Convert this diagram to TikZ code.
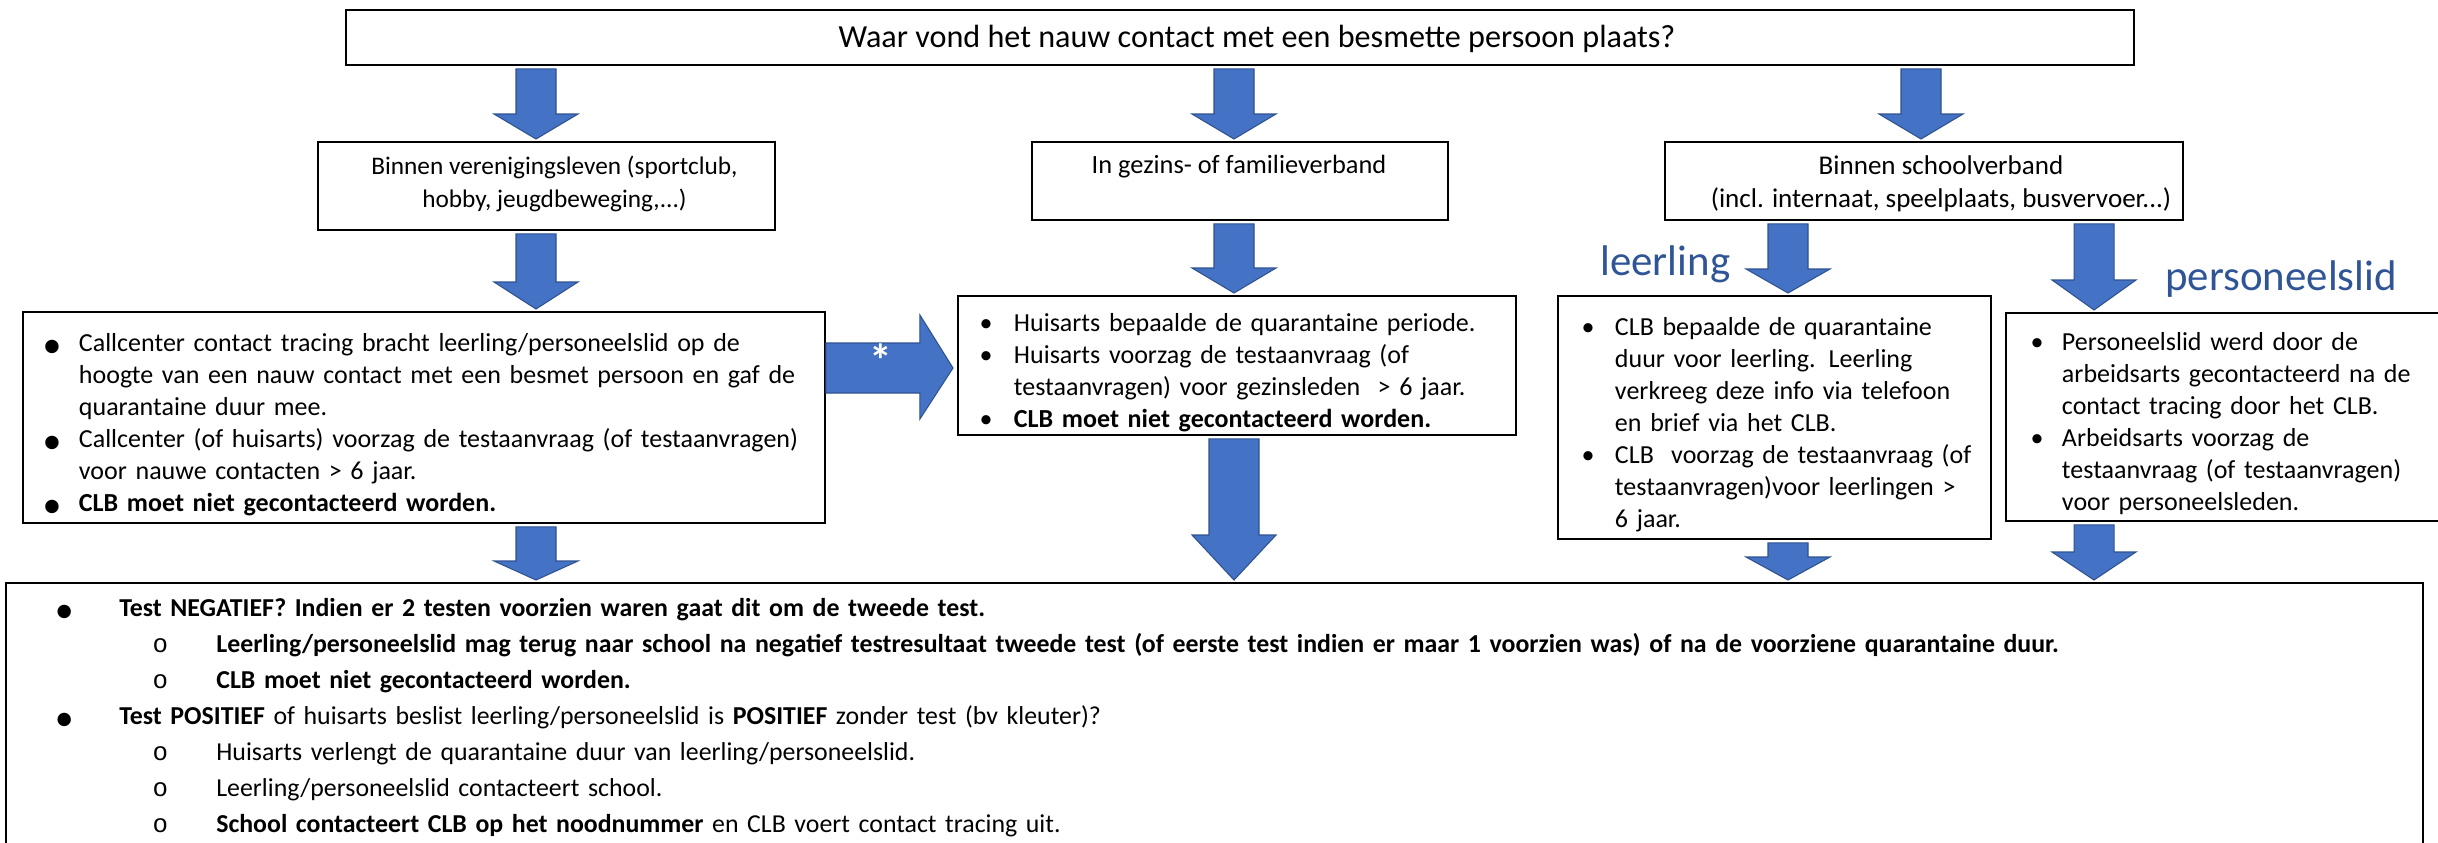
\documentclass[tikz,border=0pt]{standalone}
\usepackage{fontspec}
\setmainfont{Carlito}
\newfontfamily\symfont{DejaVu Sans}
\newfontfamily\monofont{Liberation Mono}
\usetikzlibrary{calc,positioning}

\definecolor{pijlblauw}{HTML}{4472C4}
\definecolor{pijlrand}{HTML}{2F528F}
\definecolor{labelblauw}{HTML}{2F5597}

\newlength\pxl
\setlength\pxl{0.2mm}

\newcommand{\vraagfont}{\fontsize{18.3}{21}\selectfont}
\newcommand{\kopfont}[1]{\fontsize{#1}{18.8}\selectfont}
\newcommand{\puntfont}{\fontsize{14.8}{18.2}\selectfont}
\newcommand{\testfont}{\fontsize{14.7}{20.5}\selectfont}
\newcommand{\labelfont}{\fontsize{24.4}{28}\selectfont}

\newcommand{\grootbol}{{\symfont\fontsize{10}{10}\selectfont ●}}
\newcommand{\rondje}{{\monofont o}}

% #1 = midden opsommingsteken, #2 = inspringing tekst (px), #3 = teken, #4 = tekst
\newcommand{\punt}[4]{\par\noindent\hangindent=#2\pxl\hangafter=1%
  \makebox[#2\pxl][l]{\hspace*{#1\pxl}\makebox[0pt]{#3}}{\def\\{\hfil\break}#4\par}}

% blokpijl omlaag: [halve schacht] kolom, van, naar, lengte kop
\newcommand{\blokpijl}[5][20]{%
  \path (#3 -| #2) coordinate (pijlbegin) (#4 -| #2) coordinate (pijleind);
  \draw[pijl] ($(pijlbegin)+(-#1,3)$) -- ($(pijlbegin)+(#1,3)$)
    -- ($(pijleind)+(#1,-#5-2)$) -- ($(pijleind)+(42,-#5-2)$)
    -- ($(pijleind)+(0,-2)$)
    -- ($(pijleind)+(-42,-#5-2)$) -- ($(pijleind)+(-#1,-#5-2)$) -- cycle;
}

\begin{document}
\begin{tikzpicture}[x=0.2mm, y=-0.2mm,
    kader/.style={draw, line width=1.1pt, inner sep=0pt, anchor=north west},
    pijl/.style={fill=pijlblauw, draw=pijlrand, line width=0.6pt},
    lijst/.style={align=left, font=\puntfont},
    labeltekst/.style={text=labelblauw, font=\labelfont, inner sep=0pt}]

  \clip (0,0) rectangle (2438,842);
  \fill[white] (0,0) rectangle (2438,842);

  % kolommen voor de pijlen
  \coordinate (kol1) at (536,0);
  \coordinate (kol2) at (1234,0);
  \coordinate (kol3) at (1921,0);
  \coordinate (kolleerling) at (1788,0);
  \coordinate (kolpersoneel) at (2094,0);
  \coordinate (sterhoogte) at (0,368);

  % vraag
  \node[kader, minimum width=1788\pxl, minimum height=55\pxl] (vraag) at (345,9) {};
  \node[font=\vraagfont] (vraagtekst) at ($(vraag.center)+(17,1)$) {Waar vond het nauw contact met een besmette persoon plaats?};

  % takken
  \node[kader, minimum width=457\pxl, minimum height=88\pxl] (vereniging) at (317,141) {};
  \node[font=\kopfont{14.4}, align=center] (verenigingtekst) at ($(vereniging.center)+(8,-2)$) {Binnen verenigingsleven (sportclub,\\hobby, jeugdbeweging,...)};
  \node[kader, minimum width=416\pxl, minimum height=78\pxl] (gezin) at (1031,141) {};
  \node[font=\kopfont{15}] (gezintekst) at ($(gezin.north)+(-1,26)$) {In gezins- of familieverband};
  \node[kader, minimum width=518\pxl, minimum height=78\pxl] (school) at (1664,141) {};
  \node[font=\kopfont{15.4}, align=center] (schooltekst) at ($(school.center)+(17,3)$) {Binnen schoolverband\\(incl. internaat, speelplaats, busvervoer...)};

  % uitleg per tak
  \node[kader, lijst, text width=802\pxl, minimum height=211\pxl] (callcenter) at (22,311) {%
    \punt{29}{56}{\grootbol}{Callcenter contact tracing bracht leerling/personeelslid op de\\hoogte van een nauw contact met een besmet persoon en gaf de\\quarantaine duur mee.}
    \punt{29}{56}{\grootbol}{Callcenter (of huisarts) voorzag de testaanvraag (of testaanvragen)\\voor nauwe contacten > 6 jaar.}
    \punt{29}{56}{\grootbol}{\textbf{CLB moet niet gecontacteerd worden.}}};
  \node[kader, lijst, text width=558\pxl, minimum height=139\pxl] (huisarts) at (957,295) {%
    \punt{28}{56}{\textbullet}{Huisarts bepaalde de quarantaine periode.}
    \punt{28}{56}{\textbullet}{Huisarts voorzag de testaanvraag (of\\testaanvragen) voor gezinsleden\ \ > 6 jaar.}
    \punt{28}{56}{\textbullet}{\textbf{CLB moet niet gecontacteerd worden.}}};
  \node[kader, lijst, text width=433\pxl, minimum height=243\pxl] (clbleerling) at (1557,295) {%
    \punt{30}{57}{\textbullet}{CLB bepaalde de quarantaine\\duur voor leerling. Leerling\\verkreeg deze info via telefoon\\en brief via het CLB.}
    \punt{30}{57}{\textbullet}{CLB\ \ voorzag de testaanvraag (of\\testaanvragen)voor leerlingen >\\6 jaar.}};
  \node[kader, lijst, text width=440\pxl, minimum height=208\pxl] (arbeidsarts) at (2005,312) {%
    \punt{31}{56}{\textbullet}{Personeelslid werd door de\\arbeidsarts gecontacteerd na de\\contact tracing door het CLB.}
    \punt{31}{56}{\textbullet}{Arbeidsarts voorzag de\\testaanvraag (of testaanvragen)\\voor personeelsleden.}};

  \node[labeltekst, anchor=base west] (leerlinglabel) at (1600,275) {leerling};
  \node[labeltekst, anchor=base west] (personeellabel) at (2165,290) {personeelslid};

  % gevolg van de test
  \node[kader, minimum width=2417\pxl, minimum height=300\pxl] (test) at (5,582) {};
  \node[align=left, font=\testfont, text width=2417\pxl, inner sep=0pt, anchor=north west] (testtekst) at ($(test.north west)+(0,-2)$) {%
    \punt{59}{114}{\grootbol}{\textbf{Test NEGATIEF? Indien er 2 testen voorzien waren gaat dit om de tweede test.}}
    \punt{155}{211}{\rondje}{\textbf{Leerling/personeelslid mag terug naar school na negatief testresultaat tweede test (of eerste test indien er maar 1 voorzien was) of na de voorziene quarantaine duur.}}
    \punt{155}{211}{\rondje}{\textbf{CLB moet niet gecontacteerd worden.}}
    \punt{59}{114}{\grootbol}{\textbf{Test POSITIEF} of huisarts beslist leerling/personeelslid is \textbf{POSITIEF} zonder test (bv kleuter)?}
    \punt{155}{211}{\rondje}{Huisarts verlengt de quarantaine duur van leerling/personeelslid.}
    \punt{155}{211}{\rondje}{Leerling/personeelslid contacteert school.}
    \punt{155}{211}{\rondje}{\textbf{School contacteert CLB op het noodnummer} en CLB voert contact tracing uit.}};

  % pijlen
  \blokpijl{kol1}{vraag.south}{vereniging.north}{25}
  \blokpijl{kol2}{vraag.south}{gezin.north}{25}
  \blokpijl{kol3}{vraag.south}{school.north}{25}
  \blokpijl{kol1}{vereniging.south}{callcenter.north}{27}
  \blokpijl{kol2}{gezin.south}{huisarts.north}{25}
  \blokpijl{kolleerling}{school.south}{clbleerling.north}{24}
  \blokpijl{kolpersoneel}{school.south}{arbeidsarts.north}{30}
  \blokpijl{kol1}{callcenter.south}{test.north}{19}
  \blokpijl[25]{kol2}{huisarts.south}{test.north}{45}
  \blokpijl{kolleerling}{clbleerling.south}{test.north}{23}
  \blokpijl{kolpersoneel}{arbeidsarts.south}{test.north}{28}

  \draw[pijl] ($(callcenter.east |- sterhoogte)+(0,-25)$) -- ++(94,0) -- ++(0,-28)
    -- ($(huisarts.west |- sterhoogte)+(-4,0)$)
    -- ($(callcenter.east |- sterhoogte)+(94,51)$) -- ++(0,-26)
    -- ($(callcenter.east |- sterhoogte)+(0,25)$) -- cycle;
  \node[text=white, font=\bfseries\fontsize{26}{26}\selectfont, inner sep=0pt, anchor=north] (ster) at (881,343) {*};
\end{tikzpicture}
\end{document}
